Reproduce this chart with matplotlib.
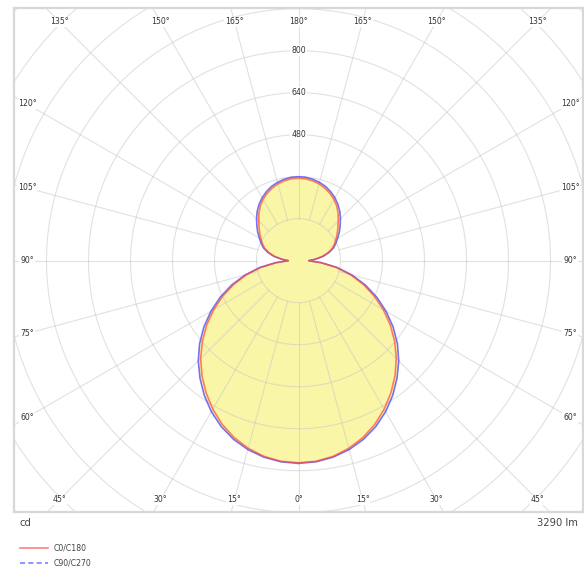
import numpy as np
import matplotlib
matplotlib.use("Agg")
import matplotlib.pyplot as plt
from matplotlib.lines import Line2D

# Luminous intensity (cd) per gamma angle, 0 = straight down, 180 = straight up
gamma = list(range(0, 181, 5))
c0_c180 = [770, 767, 757, 740, 717, 688, 653, 614, 572, 527, 478, 427, 373, 318,
           262, 205, 145, 85, 39,
           63, 92, 116, 137, 151, 165, 180, 196, 214, 235, 254, 270, 283, 294,
           303, 309, 313, 314]
c90_c270 = [772, 769, 760, 745, 724, 697, 664, 626, 584, 540, 492, 440, 385, 329,
            271, 211, 150, 88, 39,
            65, 95, 120, 142, 157, 172, 190, 207, 226, 245, 262, 277, 290, 301,
            309, 315, 319, 320]
ring_step = 160
ring_labels = [480, 640, 800]
spoke_angles = list(range(0, 181, 15))
flux_label = "3290 lm"
unit_label = "cd"
series_names = ["C0/C180", "C90/C270"]

W, H = 584, 572
fig = plt.figure(figsize=(W / 100, H / 100), dpi=100)

# plot frame in pixels
left, right, top, bottom = 14, 583, 8, 512
cx, cy = 298.5, 260.7
px_per_cd = 42 / ring_step
ax = fig.add_axes([left / W, 1 - bottom / H, (right - left) / W, (bottom - top) / H])
ax.set_xlim((left - cx) / px_per_cd, (right - cx) / px_per_cd)
ax.set_ylim(-(bottom - cy) / px_per_cd, (cy - top) / px_per_cd)
ax.set_xticks([])
ax.set_yticks([])
for s in ax.spines.values():
    s.set_color("#d8d8d8")
    s.set_linewidth(1.6)

# grid sits above the fill, semi-transparent so it tints inside the lobes
grid_kw = dict(color="#c4c4c4", lw=0.8, alpha=0.5, zorder=2.5)

# rings
t = np.linspace(0, 2 * np.pi, 721)
for r in range(ring_step, ring_step * 11, ring_step):
    ax.plot(r * np.cos(t), r * np.sin(t), **grid_kw)

# spokes, starting at the first ring
far = ring_step * 12
for a in range(0, 360, 15):
    g = np.radians(a)
    ax.plot([ring_step * np.sin(g), far * np.sin(g)],
            [-ring_step * np.cos(g), -far * np.cos(g)], **grid_kw)


def polar_curve(values):
    g = np.radians(np.array(gamma, dtype=float))
    v = np.array(values, dtype=float)
    x = np.concatenate([v * np.sin(g), -(v * np.sin(g))[::-1]])
    y = np.concatenate([-v * np.cos(g), (-v * np.cos(g))[::-1]])
    return x, y


xb, yb = polar_curve(c90_c270)
xr, yr = polar_curve(c0_c180)
# C90 encloses C0, so one fill covers both
ax.fill(xb, yb, color="#f9f383", alpha=0.7, lw=0, zorder=2)
ax.plot(xb, yb, color="#3a3aff", lw=1.2, alpha=0.7, zorder=3)
ax.plot(xr, yr, color="#ff4a3a", lw=1.2, alpha=0.7, zorder=3)

# ring value labels along the 180 degree spoke
for v in ring_labels:
    ax.text(0, v, str(v), ha="center", va="center", fontsize=5.6, color="#333333",
            zorder=5, bbox=dict(boxstyle="square,pad=0.15", fc="white", ec="none"))

# angle labels where each spoke meets an inset rectangle
ix0 = (27 - cx) / px_per_cd
ix1 = (570 - cx) / px_per_cd
iy0 = -(500 - cy) / px_per_cd
iy1 = (cy - 22) / px_per_cd
for a in spoke_angles:
    for side in ([1, -1] if 0 < a < 180 else [1]):
        g = np.radians(a)
        dx, dy = side * np.sin(g), -np.cos(g)
        ts = []
        if dx > 1e-9:
            ts.append(ix1 / dx)
        if dx < -1e-9:
            ts.append(ix0 / dx)
        if dy > 1e-9:
            ts.append(iy1 / dy)
        if dy < -1e-9:
            ts.append(iy0 / dy)
        tt = min(ts)
        ax.text(tt * dx, tt * dy, f"{a}°", ha="center", va="center", fontsize=5.6,
                color="#333333", zorder=5,
                bbox=dict(boxstyle="square,pad=0.1", fc="white", ec="none"))

# captions under the frame
fig.text(20 / W, 1 - 523 / H, unit_label, ha="left", va="center", fontsize=7.2, color="#444444")
fig.text(578 / W, 1 - 523 / H, flux_label, ha="right", va="center", fontsize=7.2, color="#444444")

# legend
for i, (name, col, ls) in enumerate(zip(series_names, ["#ff8080", "#8080ff"], ["-", "--"])):
    y = 1 - (548 + 15 * i) / H
    fig.add_artist(Line2D([20 / W, 48 / W], [y, y], color=col, lw=1.2, ls=ls,
                          dashes=(3, 2) if ls == "--" else (None, None)))
    fig.text(54 / W, y, name, ha="left", va="center", fontsize=5.6, color="#444444")

fig.savefig("out.png", dpi=100)
